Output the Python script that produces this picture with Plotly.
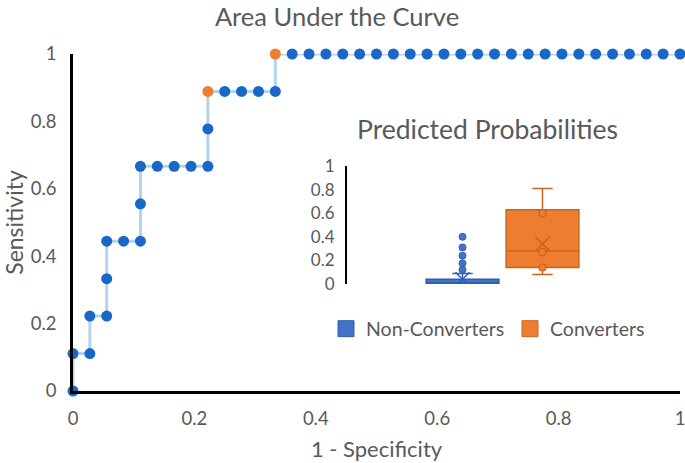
import plotly.graph_objects as go

# ---------------- data ----------------
# ROC curve: 36 non-converters (x steps of 1/36), 9 converters (y steps of 1/9)
fpr_steps = [0, 0, 1, 1, 2, 2, 2, 3, 4, 4, 4, 5, 6, 7, 8, 8, 8, 9, 10, 11, 12, 12,
             13, 14, 15, 16, 17, 18, 19, 20, 21, 22, 23, 24, 25, 26, 27, 28, 29,
             30, 31, 32, 33, 34, 35, 36]
tpr_steps = [0, 1, 1, 2, 2, 3, 4, 4, 4, 5, 6, 6, 6, 6, 6, 7, 8, 8, 8, 8, 8, 9,
             9, 9, 9, 9, 9, 9, 9, 9, 9, 9, 9, 9, 9, 9, 9, 9, 9,
             9, 9, 9, 9, 9, 9, 9]
n_neg = 36
n_pos = 9
highlight_idx = [16, 21]  # orange points

# Box plot statistics (Predicted Probabilities)
groups = ["Non-Converters", "Converters"]
group_pos = [0, 1]
q1 = [0.0, 0.14]
median = [0.01, 0.28]
q3 = [0.04, 0.63]
lowerfence = [0.0, 0.08]
upperfence = [0.09, 0.81]
means = [0.04, 0.34]
nonconv_outliers = [0.12, 0.175, 0.24, 0.31, 0.40]
conv_points = [0.14, 0.27, 0.60]

x_ticks = [0, 0.2, 0.4, 0.6, 0.8, 1]
y_ticks = [0, 0.2, 0.4, 0.6, 0.8, 1]

# ---------------- style ----------------
FONT = "Lato"
TXT = "#595959"
BLUE_DOT = "#1967C6"
LINE_BLUE = "#B4D3EE"
ORANGE = "#ED7D31"
ORANGE_DARK = "#C9651F"
BOX_BLUE = "#4472C4"
BOX_BLUE_DARK = "#2F5FB3"

W, H = 685, 463
L, R, T, B = 73, 5, 54, 72
PW, PH = W - L - R, H - T - B


def px_x(p):  # picture x -> paper x
    return (p - L) / PW


def px_y(p):  # picture y -> paper y
    return (H - B - p) / PH


x = [v / n_neg for v in fpr_steps]
y = [v / n_pos for v in tpr_steps]
colors = [ORANGE if i in highlight_idx else BLUE_DOT for i in range(len(x))]

fig = go.Figure()

fig.add_trace(go.Scatter(
    x=x, y=y, mode="lines+markers",
    line=dict(color=LINE_BLUE, width=3),
    marker=dict(color=colors, size=11, line=dict(width=0)),
    cliponaxis=False, showlegend=False, hoverinfo="x+y",
))

# inset box plots
box_fill = [BOX_BLUE, ORANGE]
box_line = [BOX_BLUE_DARK, ORANGE_DARK]
for i in range(2):
    fig.add_trace(go.Box(
        x=[group_pos[i]], q1=[q1[i]], median=[median[i]], q3=[q3[i]],
        lowerfence=[lowerfence[i]], upperfence=[upperfence[i]],
        width=0.91, whiskerwidth=0.28,
        fillcolor=box_fill[i], line=dict(color=box_line[i], width=1.5),
        xaxis="x2", yaxis="y2", showlegend=False, name=groups[i],
        boxpoints=False,
    ))

# mean markers
fig.add_trace(go.Scatter(
    x=group_pos, y=means, mode="markers", xaxis="x2", yaxis="y2",
    marker=dict(symbol="x-thin-open", size=14, color=box_line,
                line=dict(color=box_line, width=1.5)),
    showlegend=False, hoverinfo="y",
))
# non-converter outliers
fig.add_trace(go.Scatter(
    x=[group_pos[0]] * len(nonconv_outliers), y=nonconv_outliers, mode="markers",
    xaxis="x2", yaxis="y2",
    marker=dict(color=BOX_BLUE, size=7, line=dict(color=BOX_BLUE_DARK, width=1)),
    showlegend=False, hoverinfo="y",
))
# converter inner points
fig.add_trace(go.Scatter(
    x=[group_pos[1]] * len(conv_points), y=conv_points, mode="markers",
    xaxis="x2", yaxis="y2",
    marker=dict(color=ORANGE, size=7, line=dict(color=ORANGE_DARK, width=1.2)),
    showlegend=False, hoverinfo="y",
))

# legend entries (one legend per entry for exact placement)
legend_refs = ["legend", "legend2"]
for i in range(2):
    fig.add_trace(go.Scatter(
        x=[None], y=[None], mode="markers", name=groups[i],
        xaxis="x2", yaxis="y2", legend=legend_refs[i],
        marker=dict(symbol="square", size=16, color=box_fill[i],
                    line=dict(color=box_line[i], width=1)),
    ))

legend_common = dict(orientation="h", xanchor="left", yanchor="middle",
                     font=dict(size=19.5, color=TXT, family=FONT),
                     bgcolor="rgba(0,0,0,0)", itemsizing="trace", borderwidth=0)

fig.update_layout(
    width=W, height=H,
    margin=dict(l=L, r=R, t=T, b=B),
    paper_bgcolor="white", plot_bgcolor="white",
    font=dict(family=FONT, color=TXT, size=18),
    title=dict(text="Area Under the Curve", x=px_x(337), xanchor="center",
               xref="paper", y=1 - 17 / H, yanchor="middle",
               font=dict(size=25.5, color=TXT, family=FONT)),
    xaxis=dict(range=[0, 1], tickvals=x_ticks, ticktext=[f"{v:g}" for v in x_ticks],
               showgrid=False, zeroline=False, showline=True, linecolor="black",
               linewidth=2.5, ticks="", ticklabelstandoff=9, automargin=False,
               ticklabeloverflow="allow",
               title=dict(text="1 - Specificity", font=dict(size=22), standoff=14),
               tickfont=dict(size=18.5)),
    yaxis=dict(range=[0, 1], tickvals=y_ticks, ticktext=[f"{v:g}" for v in y_ticks],
               showgrid=False, zeroline=False, showline=True, linecolor="black",
               linewidth=2.5, ticks="", ticklabelstandoff=10, automargin=False,
               ticklabeloverflow="allow",
               title=dict(text="Sensitivity", font=dict(size=23), standoff=18),
               tickfont=dict(size=18.5)),
    xaxis2=dict(domain=[px_x(347), px_x(640)], range=[-1.444, 2.219],
                anchor="y2", visible=False, fixedrange=True),
    yaxis2=dict(domain=[px_y(284), px_y(166)], range=[0, 1],
                anchor="x2", tickvals=y_ticks, ticktext=[f"{v:g}" for v in y_ticks],
                showgrid=False, zeroline=False, showline=True, linecolor="black",
                linewidth=2, ticks="", ticklabelstandoff=7, automargin=False,
                tickfont=dict(size=17), fixedrange=True),
    legend=dict(x=px_x(326), y=px_y(329), **legend_common),
    legend2=dict(x=px_x(510), y=px_y(329), **legend_common),
    annotations=[dict(text="Predicted Probabilities", xref="paper", yref="paper",
                      x=px_x(487), y=px_y(129), xanchor="center",
                      yanchor="middle", showarrow=False,
                      font=dict(size=26.5, color=TXT, family=FONT))],
)

# the browser's default 8px body margin would shift the whole figure
fig.write_html("out.html", config={"displayModeBar": False},
               post_script="document.body.style.margin='0';")
